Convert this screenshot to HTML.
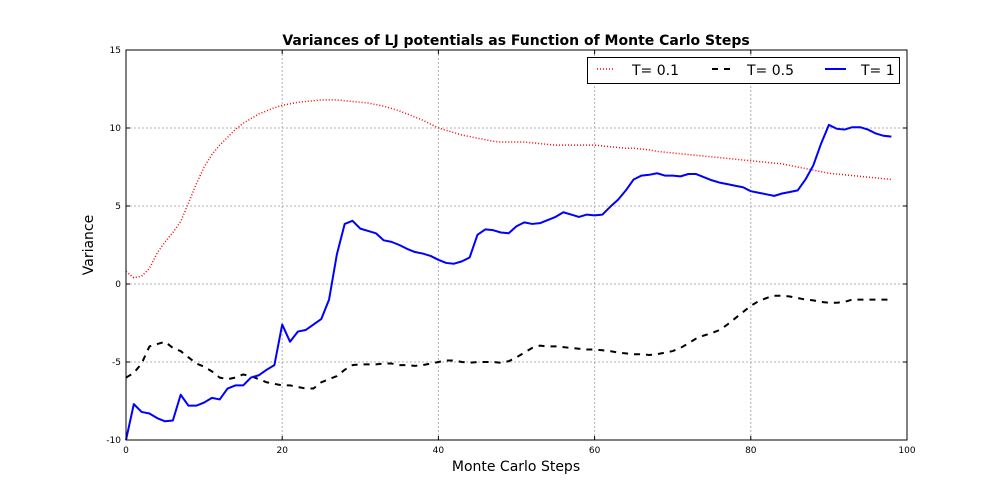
<!DOCTYPE html>
<html><head><meta charset="utf-8"><style>
body{margin:0;background:#fff;}
svg{display:block;font-family:"DejaVu Sans","Liberation Sans",sans-serif;}
</style></head><body>
<svg id="chart" width="1008" height="504" viewBox="0 0 1008 504">
<rect width="1008" height="504" fill="#fff"/>
<text x="516" y="45" text-anchor="middle" font-size="14" font-weight="bold">Variances of LJ potentials as Function of Monte Carlo Steps</text>
<g id="grid"></g>
<g id="series"></g>
<rect x="126" y="50" width="781" height="390" fill="none" stroke="#000" stroke-width="1"/>
<g id="ticks" font-size="9"></g>
<text x="516" y="471" text-anchor="middle" font-size="14">Monte Carlo Steps</text>
<text x="93" y="245" text-anchor="middle" font-size="14" transform="rotate(-90 93 245)">Variance</text>
<g>
<rect x="587.5" y="57.5" width="312" height="26" fill="#fff" stroke="#000" stroke-width="1"/>
<line x1="597" y1="69" x2="615" y2="69" stroke="red" stroke-width="1.5" stroke-dasharray="1,2"/>
<text x="632" y="75" font-size="14">T= 0.1</text>
<line x1="712" y1="69" x2="731" y2="69" stroke="#000" stroke-width="2" stroke-dasharray="6,6"/>
<text x="747" y="75" font-size="14">T= 0.5</text>
<line x1="825" y1="69" x2="846" y2="69" stroke="blue" stroke-width="2"/>
<text x="861" y="75" font-size="14">T= 1</text>
</g>
</svg>
<script>
const xTicks=[0,20,40,60,80,100];
const yTicks=[-10,-5,0,5,10,15];
const seriesT01=[0.8,0.4,0.5,1.0,2.0,2.7,3.3,4.0,5.2,6.4,7.5,8.3,8.9,9.4,9.9,10.3,10.6,10.9,11.1,11.3,11.45,11.55,11.65,11.7,11.75,11.8,11.8,11.8,11.75,11.7,11.65,11.6,11.5,11.4,11.25,11.1,10.9,10.7,10.5,10.25,10.0,9.85,9.7,9.55,9.45,9.35,9.25,9.15,9.1,9.1,9.1,9.1,9.05,9.0,8.95,8.9,8.9,8.9,8.9,8.9,8.9,8.85,8.8,8.75,8.7,8.7,8.65,8.6,8.5,8.45,8.4,8.35,8.3,8.25,8.2,8.15,8.1,8.05,8.0,7.95,7.9,7.85,7.8,7.75,7.7,7.6,7.5,7.4,7.3,7.2,7.1,7.05,7.0,6.95,6.9,6.85,6.8,6.75,6.7];
const seriesT05=[-6.0,-5.7,-5.1,-4.0,-3.85,-3.7,-4.1,-4.3,-4.7,-5.1,-5.3,-5.6,-6.0,-6.1,-6.0,-5.8,-5.9,-6.1,-6.3,-6.4,-6.5,-6.5,-6.6,-6.7,-6.7,-6.3,-6.1,-5.9,-5.5,-5.2,-5.15,-5.15,-5.15,-5.1,-5.1,-5.2,-5.2,-5.25,-5.2,-5.1,-5.0,-4.9,-4.9,-5.0,-5.05,-5.0,-5.0,-5.0,-5.05,-4.95,-4.7,-4.4,-4.1,-3.95,-4.0,-4.0,-4.05,-4.1,-4.15,-4.2,-4.2,-4.25,-4.3,-4.4,-4.45,-4.5,-4.5,-4.55,-4.5,-4.4,-4.3,-4.1,-3.8,-3.5,-3.3,-3.15,-2.95,-2.6,-2.2,-1.8,-1.4,-1.1,-0.9,-0.75,-0.75,-0.8,-0.9,-1.0,-1.05,-1.15,-1.2,-1.2,-1.15,-1.0,-1.0,-1.0,-1.0,-1.0,-1.0];
const seriesT1=[-10,-7.7,-8.2,-8.3,-8.6,-8.8,-8.75,-7.1,-7.8,-7.8,-7.6,-7.3,-7.4,-6.7,-6.5,-6.5,-6.0,-5.85,-5.5,-5.2,-2.6,-3.7,-3.05,-2.95,-2.6,-2.25,-1.0,1.9,3.85,4.05,3.55,3.4,3.25,2.8,2.7,2.5,2.25,2.05,1.95,1.8,1.55,1.35,1.3,1.45,1.7,3.15,3.5,3.45,3.3,3.25,3.7,3.95,3.85,3.9,4.1,4.3,4.6,4.45,4.3,4.45,4.4,4.45,4.95,5.4,6.0,6.7,6.95,7.0,7.1,6.95,6.95,6.9,7.05,7.05,6.85,6.65,6.5,6.4,6.3,6.2,5.95,5.85,5.75,5.65,5.8,5.9,6.0,6.7,7.6,9.0,10.2,9.95,9.9,10.05,10.05,9.9,9.65,9.5,9.45];
const NS='http://www.w3.org/2000/svg';
const X0=126,X1=907,Y0=440,Y1=50;
function sx(v){return X0+(v-0)/(100-0)*(X1-X0);}
function sy(v){return Y0-(v-(-10))/(15-(-10))*(Y0-Y1);}
const grid=document.getElementById('grid'),ticks=document.getElementById('ticks'),ser=document.getElementById('series');
function mk(tag,attrs,parent){const e=document.createElementNS(NS,tag);for(const k in attrs)e.setAttribute(k,attrs[k]);parent.appendChild(e);return e;}
xTicks.forEach(t=>{
  const x=sx(t);
  if(t>0&&t<100){const g=mk('line',{x1:x,y1:Y1,x2:x,y2:Y0,stroke:'#b0b0b0','stroke-dasharray':'2,2'},grid);
  
  }
  mk('line',{x1:x,y1:Y0,x2:x,y2:Y0-4,stroke:'#000'},ticks);
  mk('line',{x1:x,y1:Y1,x2:x,y2:Y1+4,stroke:'#000'},ticks);
  const l=mk('text',{x:x,y:Y0+13,'text-anchor':'middle'},ticks);l.textContent=t;
  
  
});
yTicks.forEach(t=>{
  const y=sy(t);
  if(t>-10&&t<15){const g=mk('line',{x1:X0,y1:y,x2:X1,y2:y,stroke:'#b0b0b0','stroke-dasharray':'2,2'},grid);
  
  }
  mk('line',{x1:X0,y1:y,x2:X0+4,y2:y,stroke:'#000'},ticks);
  mk('line',{x1:X1,y1:y,x2:X1-4,y2:y,stroke:'#000'},ticks);
  const l=mk('text',{x:X0-5,y:y+3,'text-anchor':'end'},ticks);l.textContent=t;
  
  
});
function line(data,attrs,name){
  const d=data.map((v,i)=>(i?'L':'M')+sx(i).toFixed(2)+','+sy(v).toFixed(2)).join('');
  const p=mk('path',Object.assign({d:d,fill:'none','stroke-linejoin':'round'},attrs),ser);
  
  
}
line(seriesT01,{stroke:'red','stroke-width':1.5,'stroke-dasharray':'1,2'},'line-t01');
line(seriesT05,{stroke:'#000','stroke-width':2,'stroke-dasharray':'6,6'},'line-t05');
line(seriesT1,{stroke:'blue','stroke-width':2},'line-t1');
</script>
</body></html>
